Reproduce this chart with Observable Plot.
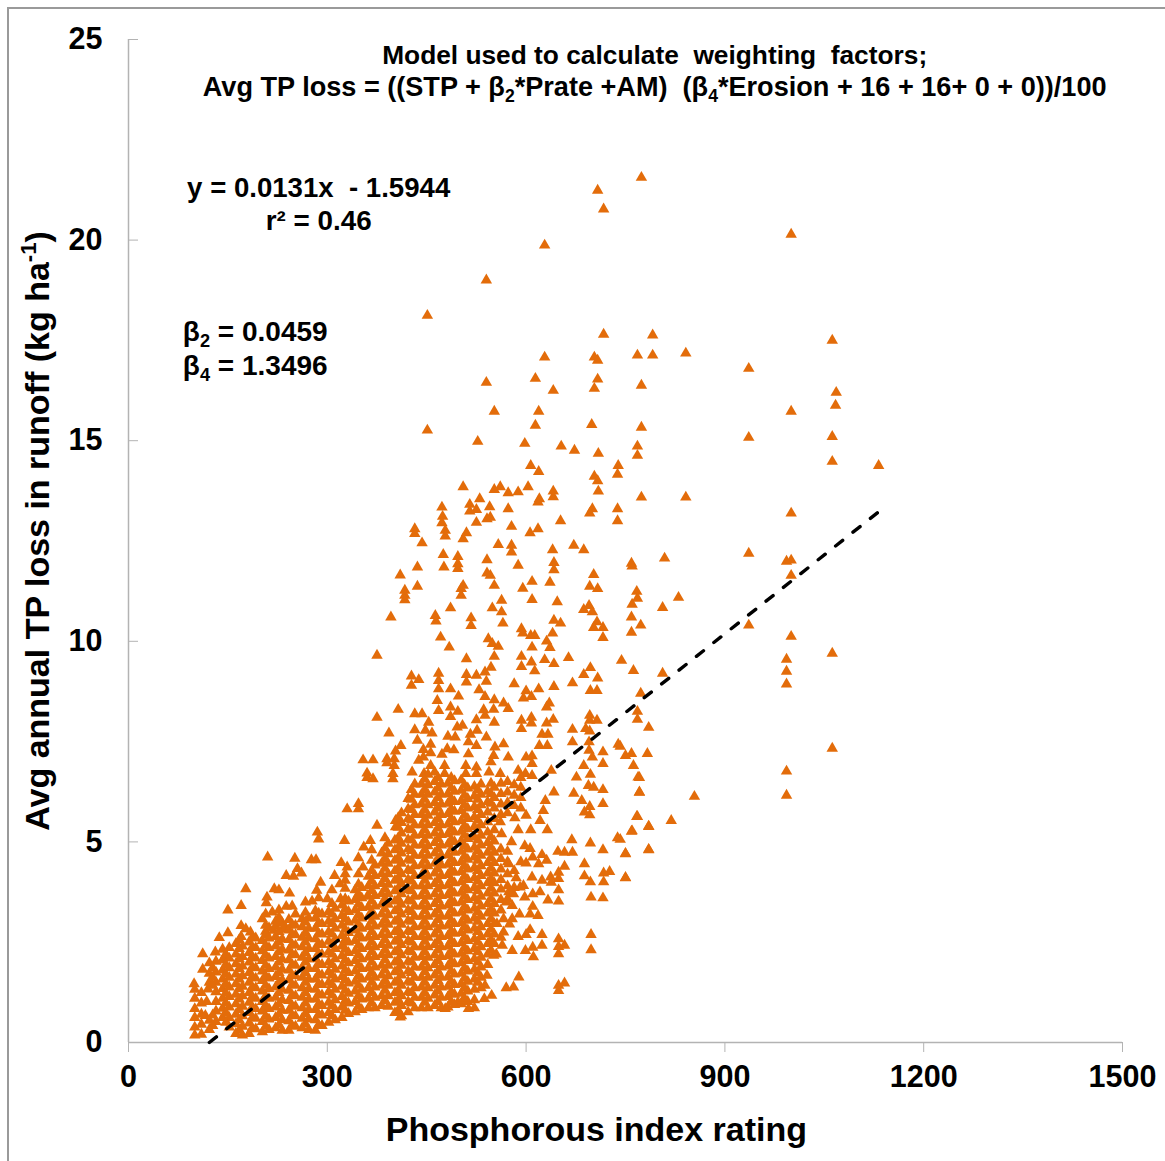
<!DOCTYPE html>
<html><head><meta charset="utf-8">
<script src="https://cdn.jsdelivr.net/npm/d3@7"></script>
<script src="https://cdn.jsdelivr.net/npm/@observablehq/plot@0.6"></script>
<style>
html,body{margin:0;padding:0;background:#fff;}
#frame{position:absolute;left:7px;top:7px;width:1158px;height:1154px;border-left:2px solid #9a9a9a;border-top:2px solid #9a9a9a;box-sizing:border-box;pointer-events:none}
#chart{position:absolute;left:0;top:0}
svg{display:block}
</style></head><body>
<div id="chart"></div><div id="frame"></div>
<script>
const xTicks=[0,300,600,900,1200,1500];
const yTicks=[0,5,10,15,20,25];
const trendX=[122,1130];
const trendY=[0,13.2];
const upperPoints=[[774,21.56],[708,21.24],[717,20.77],[1000,20.14],[628,19.87],[540,19],[451,18.12],[717,17.65],[791,17.63],[1062,17.5],[841,17.18],[768,17.13],[791,17.13],[703,17.08],[708,17],[628,17.08],[614,16.55],[641,16.25],[708,16.53],[703,16.3],[774,16.38],[540,16.45],[1068,16.2],[1067,15.88],[936,16.8],[1000,15.73],[552,15.73],[619,15.73],[614,15.38],[774,15.33],[699,15.4],[451,15.26],[527,14.98],[936,15.08],[1062,15.1],[598,14.93],[653,14.86],[673,14.76],[768,14.86],[768,14.63],[709,14.68],[1062,14.48],[1132,14.38],[739,14.38],[607,14.38],[619,14.23],[703,14.11],[738,14.16],[708,14],[641,13.74],[709,13.74],[774,13.59],[841,13.59],[552,13.78],[561,13.85],[573,13.7],[588,13.72],[603,13.85],[620,13.55],[641,13.6],[505,13.85],[530,13.55],[545,13.35]];
const rightPoints=[[1000,13.19],[809,12.07],[936,12.19],[993,11.99],[1000,12.02],[1000,11.64],[759,11.94],[760,11.87],[767,11.24],[768,11.07],[830,11.09],[760,10.92],[806,10.84],[759,10.6],[773,10.4],[759,10.22],[936,10.4],[1000,10.12],[1062,9.7],[993,9.55],[993,9.25],[993,8.93],[744,9.52],[762,9.27],[806,9.2],[773,8.7],[768,8.25],[768,8.05],[785,7.85],[742,7.38],[759,7.2],[750,7.15],[783,7.2],[1062,7.33],[762,6.9],[771,6.6],[993,6.76],[771,6.23],[854,6.13],[993,6.16],[768,5.63],[819,5.53],[785,5.38],[759,5.26],[742,5.06],[750,4.71],[785,4.81],[750,4.11]];
const midPoints=[[473,13.34],[515,13.41],[525,13.28],[515,13.24],[573,13.3],[618,13.47],[700,13.3],[696,13.19],[738,13.3],[738,13],[474,13.11],[473,12.95],[525,12.96],[541,13.05],[546,13.09],[578,12.86],[652,13],[432,12.8],[432,12.68],[478,12.76],[478,12.62],[510,12.7],[505,12.55],[618,12.8],[606,12.7],[443,12.45],[558,12.41],[578,12.39],[578,12.22],[672,12.39],[687,12.28],[640,12.28],[475,12.16],[497,12.11],[541,12.03],[642,11.96],[642,11.78],[436,11.85],[476,11.85],[497,11.93],[497,11.81],[588,11.89],[410,11.65],[541,11.7],[546,11.64],[702,11.66],[505,11.39],[502,11.31],[502,11.14],[436,11.37],[417,11.27],[417,11.14],[417,11.03],[552,11.39],[609,11.49],[595,11.32],[636,11.47],[696,11.37],[708,11.31],[563,11.02],[609,11.04],[647,10.98],[486,10.83],[549,10.83],[563,10.73],[695,10.89],[687,10.79],[700,10.73],[396,10.6],[463,10.64],[464,10.5],[517,10.58],[517,10.39],[565,10.45],[642,10.52],[652,10.45],[707,10.48],[702,10.34],[716,10.34],[716,10.09],[593,10.31],[595,10.2],[607,10.14],[613,10.14],[640,10.2],[471,10.1],[543,10.06],[549,9.94],[558,9.87],[631,10],[636,9.84],[609,9.85],[484,9.85],[375,9.65],[552,9.62],[510,9.56],[593,9.62],[593,9.37],[608,9.48],[613,9.26],[628,9.54],[642,9.44],[664,9.59],[697,9.34],[687,9.17],[708,9.08],[547,9.35],[538,9.23],[427,9.13],[438,9.04],[427,8.9],[468,9.2],[468,9.02],[468,8.81],[510,9.17],[510,8.98],[525,9.15],[540,9],[486,8.81],[498,8.63],[529,8.79],[538,8.62],[552,8.54],[582,8.94],[600,8.76],[596,8.58],[608,8.62],[619,8.81],[642,8.87],[670,8.96],[697,8.77],[707,8.77],[466,8.52],[468,8.27],[486,8.36],[497,8.25],[486,8.12],[566,8.46],[573,8.32],[551,8.3],[536,8.29],[538,8.15],[635,8.46],[631,8.36],[407,8.3],[375,8.1],[432,8.19],[443,8.19],[453,7.98],[525,8.04],[552,7.98],[593,8.03],[608,8.1],[608,7.96],[593,7.82],[631,7.96],[641,8.05],[696,8.15],[696,8.03],[707,8.03],[393,7.71],[432,7.79],[448,7.78],[458,7.71],[496,7.86],[504,7.9],[526,7.78],[624,7.68],[633,7.68],[670,7.8],[690,7.82],[696,7.76],[436,7.53],[482,7.63],[493,7.61],[516,7.68],[540,7.61],[513,7.49],[670,7.49],[695,7.49],[411,7.4],[456,7.43],[566,7.44],[525,7.4],[620,7.4],[632,7.4],[739,7.43],[445,7.3],[553,7.36],[403,7.26],[491,7.29],[481,7.32],[473,7.18],[456,7.22],[513,7.19],[551,7.15],[695,7.28],[716,7.24],[354,7.04],[369,7.04],[390,7.07],[390,6.97],[401,7.07],[401,6.9],[438,7.03],[573,7.11],[600,7.11],[609,7.14],[609,6.95],[700,7.11],[445,7.11],[456,6.9],[477,6.9],[509,6.9],[525,6.86],[547,6.99],[687,6.9],[716,6.95],[360,6.71],[360,6.6],[369,6.57],[399,6.7],[399,6.57],[428,6.74],[446,6.7],[477,6.7],[509,6.7],[525,6.7],[544,6.74],[561,6.7],[588,6.78],[599,6.7],[609,6.65],[638,6.78],[676,6.61],[697,6.68],[769,6.61]];
const lowerRightPoints=[[716,6.3],[771,6.24],[716,5.95],[694,6.4],[702,6.36],[672,6.21],[684,6.03],[696,5.88],[688,5.74],[696,5.67],[767,5.63],[785,5.39],[760,5.27],[738,5.1],[669,5.05],[697,4.97],[716,4.8],[785,4.8],[750,4.7],[607,5.3],[632,5.3],[621,5.53],[626,5.78],[642,6.24],[629,6.03],[600,5.66],[606,4.83],[648,4.76],[658,4.74],[670,4.74],[624,4.68],[600,4.47],[610,4.62],[619,4.45],[631,4.54],[658,4.39],[688,4.45],[688,4.15],[697,4],[717,4.22],[726,4.26],[717,4],[750,4.1],[637,4.12],[649,4.24],[649,4.08],[638,3.99],[609,4.12],[624,4.04],[649,3.8],[596,3.91],[591,3.87],[698,3.62],[716,3.6],[649,3.52],[633,3.55],[621,3.75],[610,3.7],[598,3.62],[581,3.7],[574,3.75],[610,3.39],[606,3.2],[618,3.16],[579,3.41],[579,3.08],[566,3.08],[556,2.96],[606,2.81],[624,2.69],[649,2.58],[698,2.69],[698,2.31],[566,2.75],[588,2.64],[600,2.69],[610,2.37],[624,2.42],[599,2.29],[611,2.13],[579,2.29],[649,2.21],[658,2.42],[649,2.39],[551,2.17],[564,2.42],[541,1.67],[538,1.42],[548,1.17],[537,1.09],[589,1.63],[581,1.38],[570,1.36],[649,1.29],[658,1.48],[649,1.42],[522,.86],[513,.84],[478,.84],[506,1.09],[497,1],[410,.63],[570,3.5],[585,4.1],[592,4.5],[578,5],[563,5.2],[588,5.3],[598,4.9],[575,2.95],[590,3.2],[555,2.2],[574,4.45],[561,5.5],[583,5.6]];
const leftEdgePoints=[[210,4.62],[177,3.83],[150,3.3],[170,3.41],[137,2.61],[150,2.73],[112,2.21],[112,1.82],[251,4.59],[276,4.55],[283,4.55],[330,5.82],[347,5.95],[347,5.82],[285,5.24],[287,5.07],[326,5.03],[375,5.41],[403,5.53],[403,5.37],[365,5.03],[355,4.87],[321,4.48],[330,4.37],[354,4.37],[238,4.16],[255,4.33],[261,4.22],[249,4.14],[220,3.83],[227,3.8],[243,3.72],[209,3.62],[208,3.48],[238,3.39],[290,3.99],[284,3.79],[311,4.16],[319,3.95],[327,4.04],[217,3.25],[202,3.08],[227,3.12],[252,3.2],[277,3.52],[300,3.58],[320,3.58],[347,3.62],[361,3.66],[170,2.91],[177,2.83],[184,2.75],[170,2.64],[207,2.77],[219,2.79],[237,2.87],[131,2.25],[145,2.14],[99,1.46],[120,1.33],[118,1.02],[116,.67]];
const denseColumns=[
[100,[.18,.38,.62,.84,1.1,1.32]],
[110,[.2,.45,.7,.98,1.24]],
[122,[.32,.55,1.5,1.72,1.98]],
[132,[.52,.78,1.02,1.26,1.5,1.75,2.02]],
[142,[.62,.85,1.1,1.34,1.58,1.8,2.05,2.32]],
[152,[.38,.62,.88,1.14,1.38,1.62,1.86,2.1,2.36]],
[162,[.22,.46,.7,.96,1.2,1.46,1.7,1.96,2.2,2.46]],
[172,[.18,.4,.66,.9,1.16,1.4,1.66,1.9,2.14,2.4]],
[182,[.22,.48,.74,1,1.24,1.5,1.74,2,2.24,2.5]],
[192,[.34,.6,.84,1.1,1.36,1.6,1.86,2.1,2.36,2.6]],
[202,[.26,.52,.78,1.02,1.28,1.54,1.78,2.04,2.28,2.54]],
[212,[.32,.58,.84,1.1,1.34,1.6,1.84,2.1,2.36,2.6,2.86]],
[222,[.36,.62,.88,1.12,1.38,1.64,1.88,2.14,2.4,2.64,2.9,3.02]],
[232,[.3,.56,.8,1.06,1.32,1.56,1.82,2.08,2.32,2.58,2.82,2.98]],
[242,[.3,.54,.8,1.04,1.3,1.56,1.8,2.06,2.3,2.56,2.8,3.06]],
[252,[.4,.66,.9,1.16,1.42,1.66,1.92,2.18,2.42,2.68,2.92]],
[262,[.36,.6,.86,1.12,1.36,1.62,1.86,2.12,2.38,2.62,2.88,3.08]],
[272,[.32,.58,.82,1.08,1.34,1.58,1.84,2.08,2.34,2.6,2.84,3.1]],
[282,[.3,.56,.82,1.08,1.32,1.58,1.84,2.08,2.34,2.58,2.84,3.1,3.28]],
[292,[.42,.68,.92,1.18,1.44,1.68,1.94,2.2,2.44,2.7,2.96,3.2]],
[302,[.5,.74,1,1.26,1.5,1.76,2,2.26,2.52,2.76,3.02,3.26]],
[312,[.56,.82,1.06,1.32,1.58,1.82,2.08,2.34,2.58,2.84,3.08,3.34]],
[322,[.62,.88,1.14,1.4,1.64,1.9,2.16,2.4,2.66,2.92,3.16,3.42]],
[332,[.72,.98,1.22,1.48,1.74,1.98,2.24,2.5,2.74,3,3.26,3.52]],
[342,[.76,1.02,1.28,1.52,1.78,2.04,2.28,2.54,2.8,3.04,3.3,3.56,3.8]],
[352,[.82,1.08,1.32,1.58,1.84,2.08,2.34,2.6,2.84,3.1,3.36,3.6,3.86]],
[362,[.86,1.1,1.36,1.62,1.86,2.12,2.38,2.62,2.88,3.14,3.38,3.64,3.9,4.14]],
[372,[.86,1.12,1.38,1.62,1.88,2.14,2.38,2.64,2.9,3.14,3.4,3.66,3.9,4.16,4.42]],
[382,[.92,1.16,1.42,1.68,1.92,2.18,2.44,2.68,2.94,3.2,3.44,3.7,3.96,4.2,4.46,4.72]],
[392,[.9,1.16,1.42,1.66,1.92,2.18,2.42,2.68,2.94,3.18,3.44,3.7,3.94,4.2,4.46,4.7,4.96]],
[402,[.74,1,1.24,1.5,1.76,2,2.26,2.52,2.76,3.02,3.28,3.52,3.78,4.04,4.28,4.54,4.8,5.04]],
[412,[.66,.92,1.16,1.42,1.68,1.92,2.18,2.44,2.68,2.94,3.2,3.44,3.7,3.96,4.2,4.46,4.72,4.96,5.22,5.48,5.72]],
[422,[.76,1.02,1.26,1.52,1.78,2.02,2.28,2.54,2.78,3.04,3.3,3.54,3.8,4.06,4.3,4.56,4.82,5.06,5.32,5.58,5.82,6.08]],
[432,[.86,1.12,1.36,1.62,1.88,2.12,2.38,2.64,2.88,3.14,3.4,3.64,3.9,4.16,4.4,4.66,4.92,5.16,5.42,5.68,5.92,6.18,6.44]],
[442,[.86,1.12,1.38,1.62,1.88,2.14,2.38,2.64,2.9,3.14,3.4,3.66,3.9,4.16,4.42,4.66,4.92,5.18,5.42,5.68,5.94,6.18,6.44]],
[452,[.86,1.1,1.36,1.62,1.86,2.12,2.38,2.62,2.88,3.14,3.38,3.64,3.9,4.14,4.4,4.66,4.9,5.16,5.42,5.66,5.92,6.18,6.42,6.68]],
[462,[.92,1.18,1.42,1.68,1.94,2.18,2.44,2.7,2.94,3.2,3.46,3.7,3.96,4.22,4.46,4.72,4.98,5.22,5.48,5.74,5.98,6.24,6.5,6.74]],
[472,[.86,1.12,1.38,1.62,1.88,2.14,2.38,2.64,2.9,3.14,3.4,3.66,3.9,4.16,4.42,4.66,4.92,5.18,5.42,5.68,5.94,6.18,6.44]],
[482,[.88,1.14,1.4,1.64,1.9,2.16,2.4,2.66,2.92,3.16,3.42,3.68,3.92,4.18,4.44,4.68,4.94,5.2,5.44,5.7,5.96,6.2,6.46]],
[492,[.94,1.2,1.44,1.7,1.96,2.2,2.46,2.72,2.96,3.22,3.48,3.72,3.98,4.24,4.48,4.74,5,5.24,5.5,5.76,6,6.26,6.52]],
[502,[.96,1.22,1.46,1.72,1.98,2.22,2.48,2.74,2.98,3.24,3.5,3.74,4,4.26,4.5,4.76,5.02,5.26,5.52,5.78,6.02,6.28,6.54]],
[512,[1.02,1.28,1.52,1.78,2.04,2.28,2.54,2.8,3.04,3.3,3.56,3.8,4.06,4.32,4.56,4.82,5.08,5.32,5.58,5.84,6.08,6.34]],
[522,[1.06,1.32,1.58,1.82,2.08,2.34,2.58,2.84,3.1,3.34,3.6,3.86,4.1,4.36,4.62,4.86,5.12,5.38,5.62,5.88,6.14,6.38]],
[532,[1.36,1.62,1.88,2.12,2.38,2.64,2.88,3.14,3.4,3.64,3.9,4.16,4.4,4.66,4.92,5.16,5.42,5.68,5.92,6.18,6.44]],
[542,[1.94,2.2,2.46,2.7,2.96,3.22,3.46,3.72,3.98,4.22,4.48,4.74,4.98,5.24,5.5,5.74,6,6.26]],
[552,[2.46,2.7,2.96,3.22,3.46,3.72,3.98,4.22,4.48,4.74,5.02,5.3,5.58,5.84,6.1,6.36]],
[562,[2.62,3.3,3.56,3.82,4.06,4.32,4.58,4.82,5.68,5.94,6.2,6.46]],
[572,[3.58,3.9,4.2,4.5,4.76,5.72,5.98,6.24,6.5]],
[582,[3.86,4.28,5.9,6.16,6.42]],
[592,[5.84,6.1,6.36,6.6]]
];
const coreColumns=[
[127,[.42,.68,1.42,1.62,1.86]],
[147,[.5,.74,.98,1.22,1.46,1.7,1.94,2.2]],
[167,[.3,.56,.82,1.08,1.34,1.58,1.84,2.08,2.34,2.56]],
[187,[.36,.62,.88,1.14,1.38,1.64,1.88,2.14,2.38,2.62]],
[207,[.4,.66,.92,1.16,1.42,1.66,1.92,2.18,2.42,2.68,2.92,3.2]],
[227,[.44,.7,.96,1.24,1.5,1.74,2,2.26,2.5,2.76,3,3.3]],
[247,[.42,.68,.92,1.18,1.44,1.68,1.94,2.2,2.44,2.7,2.94,3.4]],
[267,[.46,.72,.98,1.24,1.5,1.74,2,2.24,2.5,2.74,3,3.24,3.5]],
[287,[.44,.7,.96,1.2,1.46,1.7,1.96,2.22,2.46,2.72,2.98,3.22,3.6]],
[307,[.66,.92,1.18,1.44,1.68,1.94,2.2,2.44,2.7,2.96,3.2,3.46,3.8]],
[327,[.8,1.04,1.3,1.56,1.8,2.06,2.32,2.56,2.82,3.08,3.32,3.58,3.84,4.2]],
[347,[.9,1.16,1.42,1.66,1.92,2.18,2.42,2.68,2.94,3.18,3.44,3.7,3.94,4.2,4.6]],
[367,[.98,1.24,1.5,1.74,2,2.26,2.5,2.76,3.02,3.26,3.52,3.78,4.02,4.28,4.54,4.8]],
[387,[1.04,1.3,1.54,1.8,2.06,2.3,2.56,2.82,3.06,3.32,3.58,3.82,4.08,4.34,4.58,4.84,5.1]],
[407,[.8,1.06,1.3,1.56,1.82,2.06,2.32,2.58,2.82,3.08,3.34,3.58,3.84,4.1,4.34,4.6,4.86,5.1,5.36,5.6]],
[427,[.98,1.24,1.5,1.74,2,2.26,2.5,2.76,3.02,3.26,3.52,3.78,4.02,4.28,4.54,4.78,5.04,5.3,5.54,5.8,6.06,6.3]],
[447,[1,1.24,1.5,1.76,2,2.26,2.52,2.76,3.02,3.28,3.52,3.78,4.04,4.28,4.54,4.8,5.04,5.3,5.56,5.8,6.06,6.3,6.56]],
[467,[1.02,1.28,1.54,1.78,2.04,2.3,2.54,2.8,3.06,3.3,3.56,3.82,4.06,4.32,4.58,4.82,5.08,5.34,5.58,5.84,6.1,6.34,6.6]],
[487,[1.02,1.26,1.52,1.78,2.02,2.28,2.54,2.78,3.04,3.3,3.54,3.8,4.06,4.3,4.56,4.82,5.06,5.32,5.58,5.82,6.08,6.34,6.6]],
[507,[1.1,1.36,1.6,1.86,2.12,2.36,2.62,2.88,3.12,3.38,3.64,3.88,4.14,4.4,4.64,4.9,5.16,5.4,5.66,5.92,6.16,6.42]],
[527,[1.5,1.74,2,2.26,2.5,2.76,3.02,3.26,3.52,3.78,4.02,4.28,4.54,4.78,5.04,5.3,5.54,5.8,6.06,6.3]],
[547,[2.3,2.56,2.82,3.08,3.32,3.58,3.84,4.08,4.34,4.6,4.86,5.12,5.96,6.2,6.46]]
];
const sparse=[...upperPoints,...rightPoints,...midPoints,...lowerRightPoints,...leftEdgePoints];
const points=[...sparse.map(([x,y])=>({x,y})),...[...denseColumns,...coreColumns].flatMap(([x,ys])=>ys.map(y=>({x,y})))];
const orange="#e36c0a", font="'Liberation Sans',Arial,sans-serif", gray="#b3b3b3";
const notes=[
{x:794,y:24.6,t:"Model used to calculate  weighting  factors;",s:26.3},
{x:794,y:23.8,t:"Avg TP loss = ((STP + β2*Prate +AM)  (β4*Erosion + 16 + 16+ 0 + 0))/100",s:27.1},
{x:287,y:21.3,t:"y = 0.0131x  - 1.5944",s:27.6},
{x:287,y:20.47,t:"r² = 0.46",s:27.8}];
const betas=[{x:82,y:17.72,t:"β2 = 0.0459"},{x:82,y:16.87,t:"β4 = 1.3496"}];
const chart=Plot.plot({
  width:1165,height:1161,marginLeft:128,marginRight:43,marginTop:39,marginBottom:119,
  style:{fontFamily:font,background:"white",overflow:"visible"},
  x:{domain:[0,1500]},y:{domain:[0,25]},
  marks:[
    Plot.ruleX([0],{stroke:gray,strokeWidth:1.5}),
    Plot.ruleY([0],{stroke:gray,strokeWidth:1.5}),
    Plot.axisX({ticks:xTicks,tickSize:10,stroke:gray,tickFormat:d=>String(d),label:null,fontSize:30.5,fontWeight:"bold",fill:"#000",tickPadding:13}),
    Plot.axisY({ticks:yTicks,tickSize:-10,stroke:gray,label:null,fontSize:30.5,fontWeight:"bold",fill:"#000",tickPadding:36}),
    Plot.dot(points,{x:"x",y:"y",symbol:"triangle",r:4.25,fill:orange,stroke:null}),
    Plot.line(trendX.map((x,i)=>({x,y:trendY[i]})),{x:"x",y:"y",stroke:"#000",strokeWidth:3.4,strokeDasharray:"9,13.2",strokeLinecap:"round"}),
    Plot.text(notes,{x:"x",y:"y",text:"t",fontSize:"s",fontWeight:"bold",fill:"#000",lineAnchor:"middle"}),
    Plot.text(betas,{x:"x",y:"y",text:"t",fontSize:28,fontWeight:"bold",fill:"#000",textAnchor:"start",lineAnchor:"middle"}),
    Plot.text(["Phosphorous index rating"],{x:[706],y:[-2.18],text:d=>d,fontSize:34,fontWeight:"bold",fill:"#000",lineAnchor:"middle"}),
    Plot.text(["Avg annual TP loss in runoff (kg ha-1)"],{x:[-137],y:[12.75],text:d=>d,rotate:-90,fontSize:34,fontWeight:"bold",fill:"#000",lineAnchor:"middle"})
  ]
});
document.getElementById("chart").appendChild(chart);
function rich(text,parts){
  d3.select(chart).selectAll("text").filter(function(){return this.textContent===text}).each(function(){
    const el=d3.select(this);el.text(null);
    parts.forEach(([s,kind],i)=>{
      const big=parseFloat(getComputedStyle(this).fontSize);
      const t=el.append("tspan").text(s);
      if(kind==="sub")t.attr("font-size",big*.65).attr("dy",big*.22);
      if(kind==="sup")t.attr("font-size",big*.65).attr("dy",-big*.36);
      const prev=i?parts[i-1][1]:null;
      if(prev==="sub"&&!kind)t.attr("dy",-big*.22);
      if(prev==="sup"&&!kind)t.attr("dy",big*.36);
    });
  });
}
rich("β2 = 0.0459",[["β"],["2","sub"],[" = 0.0459"]]);
rich("β4 = 1.3496",[["β"],["4","sub"],[" = 1.3496"]]);
rich("Avg TP loss = ((STP + β2*Prate +AM)  (β4*Erosion + 16 + 16+ 0 + 0))/100",[["Avg TP loss = ((STP + β"],["2","sub"],["*Prate +AM)  (β"],["4","sub"],["*Erosion + 16 + 16+ 0 + 0))/100"]]);
rich("Avg annual TP loss in runoff (kg ha-1)",[["Avg annual TP loss in runoff (kg ha"],["-1","sup"],[")"]]);
</script>
</body></html>
